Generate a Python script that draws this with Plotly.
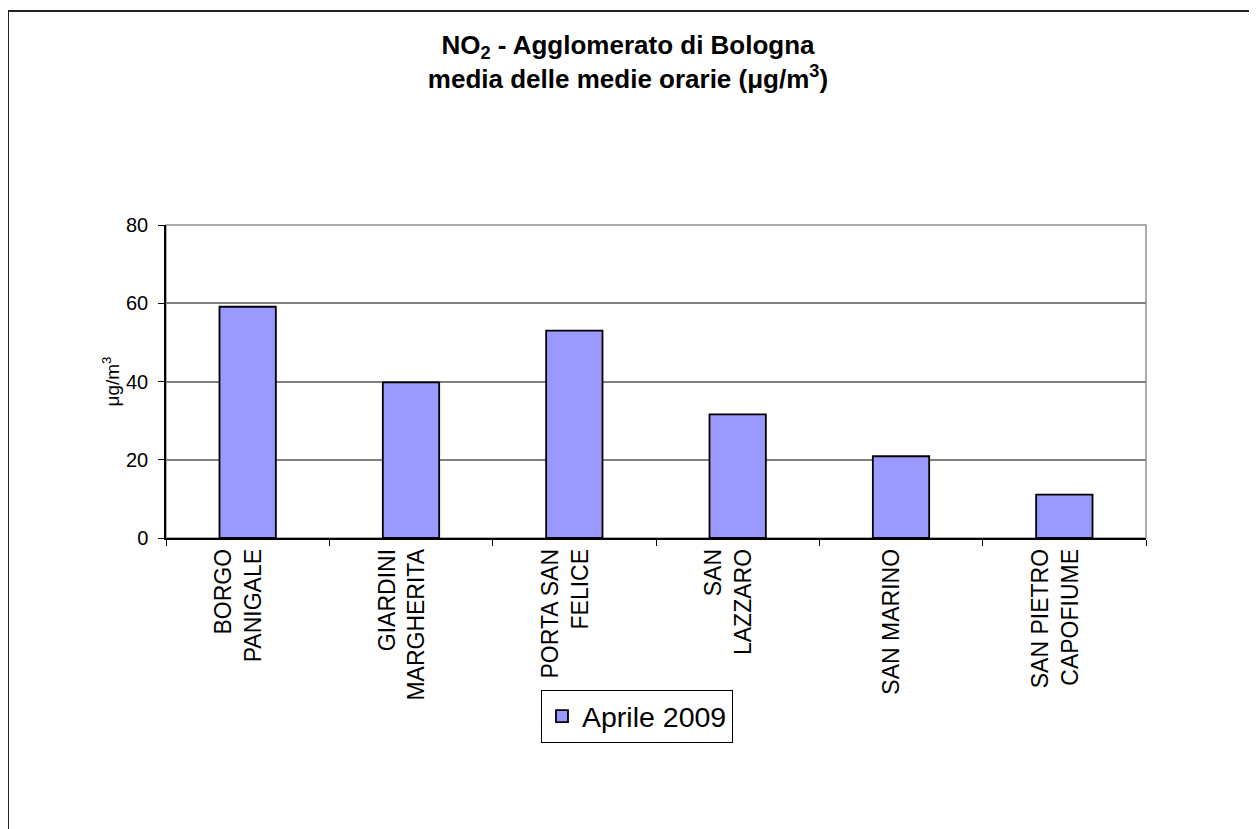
import plotly.graph_objects as go

categories = ["BORGO<br>PANIGALE", "GIARDINI<br>MARGHERITA", "PORTA SAN<br>FELICE",
              "SAN<br>LAZZARO", "SAN MARINO", "SAN PIETRO<br>CAPOFIUME"]
values = [59.1, 39.8, 53.0, 31.6, 20.9, 11.1]
series_name = "Aprile 2009"
y_ticks = [0, 20, 40, 60, 80]

FONT = "Arial, Liberation Sans, sans-serif"

fig = go.Figure()
fig.add_trace(go.Bar(
    x=categories, y=values, name=series_name,
    marker=dict(color="#9999FF", line=dict(color="#000000", width=1.8)),
))

# page has an 8px body margin; figure origin at (8, 8)
OFF = 8
W, H = 1257 - OFF, 829 - OFF
PL, PR, PT, PB = 166, 1146, 225, 538   # plot area in page pixels
L = PL - OFF
T = PT - OFF
R = OFF + W - PR
B = OFF + H - PB
pw, ph = PR - PL, PB - PT

def px(x):
    return (x - PL) / pw

def py(y):
    return (PB - y) / ph

fig.update_layout(
    width=W, height=H,
    margin=dict(l=L, r=R, t=T, b=B),
    paper_bgcolor="white", plot_bgcolor="white",
    font=dict(family=FONT, color="black"),
    bargap=0.655,
    showlegend=True,
    title=dict(
        text="NO<sub>2</sub> - Agglomerato di Bologna<br>media delle medie orarie (μg/m<sup>3</sup>)",
        x=(628 - OFF) / W, xanchor="center", y=1 - (54 - OFF) / H, yanchor="top",
        font=dict(family=FONT, size=26, color="black", weight="bold"),
    ),
    legend=dict(
        x=px(541), y=py(690), xanchor="left", yanchor="top",
        bordercolor="black", borderwidth=1, bgcolor="white",
        font=dict(family=FONT, size=28.5),
    ),
    xaxis=dict(
        type="category", tickangle=-90, tickson="boundaries",
        ticks="outside", ticklen=6, tickcolor="black",
        showline=True, linecolor="black", linewidth=1.5,
        showgrid=False, tickfont=dict(family=FONT, size=23),
        ticklabelshift=-9,
    ),
    yaxis=dict(
        range=[0, 80], tickvals=y_ticks,
        ticks="outside", ticklen=6, tickcolor="black",
        showline=True, linecolor="black", linewidth=1.5,
        showgrid=True, gridcolor="#808080", gridwidth=1.5,
        tickfont=dict(family=FONT, size=20),
        ticklabelstandoff=6,
        title=dict(text="μg/m<sup>3</sup>", font=dict(family=FONT, size=19), standoff=1),
        zeroline=False,
    ),
    shapes=[
        dict(type="rect", xref="paper", yref="paper", x0=0, x1=1, y0=0, y1=1,
             line=dict(color="#909090", width=1.5), layer="below"),
        dict(type="line", xref="paper", yref="paper", x0=px(8), x1=px(1300), y0=py(11), y1=py(11),
             line=dict(color="#222222", width=2)),
        dict(type="line", xref="paper", yref="paper", x0=px(8), x1=px(8), y0=py(11), y1=py(900),
             line=dict(color="#222222", width=2)),
    ],
)

fig.write_html("out.html")
